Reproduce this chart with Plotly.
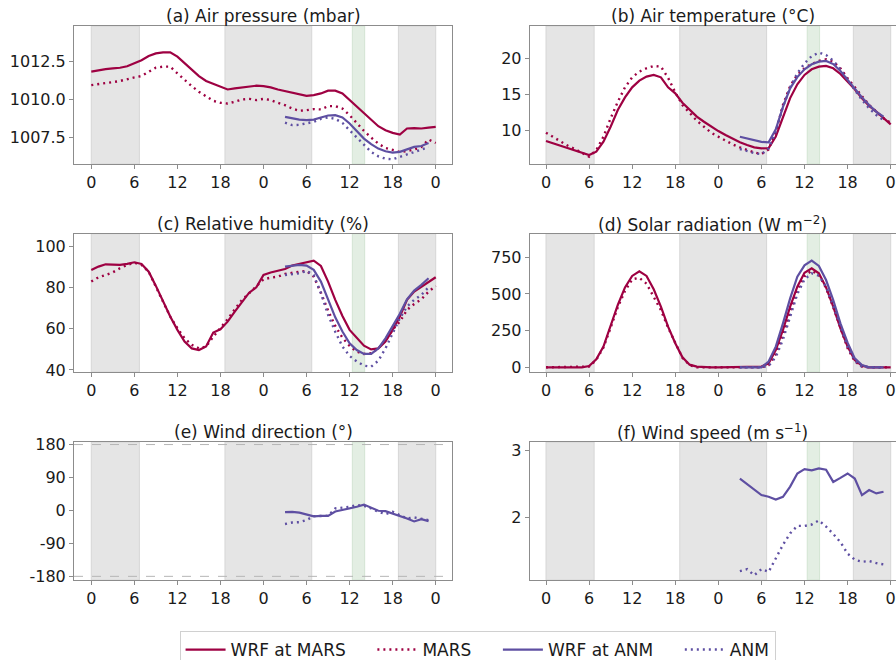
import plotly.graph_objects as go

# ---------------- data ----------------
hours_mars = list(range(0, 49))
hours_anm = list(range(27, 48))
tick_vals = [0, 6, 12, 18, 24, 30, 36, 42, 48]
tick_text = ["0", "6", "12", "18", "0", "6", "12", "18", "0"]

night_start = [0.0, 18.63, 42.8]
night_end = [6.7, 30.72, 48.0]
burst_start = [36.38]
burst_end = [38.1]

p_wrf_mars = [1011.84, 1011.93, 1012.01, 1012.05, 1012.10, 1012.20,
              1012.39, 1012.60, 1012.88, 1013.05, 1013.12, 1013.12,
              1012.83, 1012.39, 1011.95, 1011.55, 1011.22, 1011.02,
              1010.84, 1010.66, 1010.73, 1010.80, 1010.84, 1010.91,
              1010.88, 1010.80, 1010.66, 1010.55, 1010.44, 1010.33,
              1010.24, 1010.29, 1010.40, 1010.58, 1010.58, 1010.40,
              1009.96, 1009.51, 1009.07, 1008.63, 1008.23, 1007.96,
              1007.79, 1007.68, 1008.08, 1008.10, 1008.08, 1008.14,
              1008.19]
p_mars = [1010.95, 1011.00, 1011.06, 1011.15, 1011.22, 1011.35,
          1011.46, 1011.55, 1011.84, 1012.10, 1012.17, 1012.17,
          1011.73, 1011.28, 1010.88, 1010.51, 1010.18, 1009.91,
          1009.78, 1009.73, 1009.85, 1010.00, 1010.04, 1009.96,
          1010.04, 1009.96, 1009.78, 1009.62, 1009.40, 1009.25,
          1009.29, 1009.36, 1009.34, 1009.56, 1009.56, 1009.40,
          1008.96, 1008.41, 1007.92, 1007.48, 1007.08, 1006.79,
          1006.64, 1006.53, 1006.59, 1006.68, 1006.86, 1007.35,
          1007.12]
p_wrf_anm = [1008.85, 1008.74, 1008.67, 1008.63, 1008.67, 1008.81,
             1008.94, 1008.96, 1008.81, 1008.41, 1007.90, 1007.41,
             1007.04, 1006.75, 1006.57, 1006.48, 1006.53, 1006.68,
             1006.86, 1006.92, 1007.12]
p_anm = [1008.47, 1008.30, 1008.32, 1008.41, 1008.52, 1008.72,
         1008.81, 1008.72, 1008.45, 1007.96, 1007.48, 1006.97,
         1006.53, 1006.24, 1006.08, 1006.04, 1006.19, 1006.37,
         1006.53, 1006.68, 1006.86]

t_wrf_mars = [8.57, 8.25, 7.93, 7.63, 7.33, 7.00,
              6.64, 7.10, 8.48, 10.55, 12.86, 14.60,
              15.99, 16.91, 17.47, 17.70, 17.37, 15.99,
              15.16, 13.87, 12.86, 11.94, 11.24, 10.55,
              9.95, 9.40, 8.85, 8.39, 8.02, 7.70,
              7.56, 7.60, 9.20, 12.00, 14.50, 16.40,
              17.70, 18.48, 18.85, 18.94, 18.62, 17.83,
              16.77, 15.71, 14.47, 13.41, 12.63, 11.71,
              10.88]
t_mars = [9.72, 9.10, 8.48, 7.95, 7.47, 6.95,
          6.41, 7.33, 9.17, 11.71, 14.00, 15.99,
          17.37, 18.16, 18.62, 18.94, 18.85, 17.30,
          15.30, 13.55, 12.40, 11.38, 10.55, 9.72,
          9.17, 8.62, 8.11, 7.70, 7.33, 7.00,
          6.77, 7.42, 9.86, 13.55, 16.18, 17.70,
          18.62, 19.22, 19.63, 19.86, 19.54, 18.62,
          17.24, 15.99, 14.70, 13.55, 12.63, 11.71,
          11.11]
t_wrf_anm = [9.17, 8.95, 8.70, 8.45, 8.40, 10.20, 13.30, 15.85, 17.40, 18.48,
             19.17, 19.54, 19.63, 19.20, 18.25, 17.00, 15.85, 14.60, 13.55,
             12.60, 11.94]
t_anm = [7.47, 7.20, 6.90, 6.75, 7.56, 9.86, 13.30, 16.00, 17.93, 19.30,
         20.30, 20.78, 20.46, 19.68, 18.48, 17.00, 15.62, 14.24, 13.09,
         12.17, 11.47]

rh_wrf_mars = [88.6, 90.3, 91.4, 91.1, 91.1, 91.6,
               92.4, 91.6, 87.8, 80.9, 73.2, 66.0,
               59.5, 53.8, 50.5, 49.7, 51.4, 58.2,
               59.8, 63.5, 68.4, 73.2, 77.6, 80.2,
               86.2, 87.4, 88.2, 89.1, 90.8, 91.6,
               92.4, 93.2, 90.6, 83.0, 74.1, 66.3,
               59.5, 55.4, 51.8, 50.0, 50.5, 53.8,
               59.5, 66.0, 74.1, 78.1, 80.5, 83.0,
               85.1]
rh_mars = [83.0, 85.1, 86.2, 87.5, 89.5, 91.1,
           92.2, 91.1, 87.8, 80.9, 73.2, 66.0,
           60.3, 55.4, 52.2, 50.5, 51.4, 56.2,
           60.3, 64.7, 69.5, 74.1, 77.3, 80.5,
           84.1, 84.9, 85.4, 86.7, 87.4, 87.8,
           88.2, 85.4, 77.6, 68.9, 61.4, 55.7,
           51.7, 48.9, 47.8, 48.1, 50.5, 54.6,
           59.5, 63.5, 69.2, 72.1, 74.4, 78.1,
           80.9]
rh_wrf_anm = [90.3, 90.8, 91.1, 90.8, 88.7, 83.0, 74.1, 65.6, 58.7, 53.0,
              49.7, 47.8, 47.8, 50.5, 55.4, 61.1, 67.3, 74.4, 78.6, 81.4, 84.6]
rh_anm = [86.2, 86.7, 87.0, 88.2, 86.2, 77.3, 66.8, 58.6, 51.4, 46.8,
          44.1, 42.1, 41.6, 44.5, 50.5, 57.8, 65.1, 70.8, 74.1, 76.5, 80.2]

sw_wrf_mars = [0, 0, 0, 0, 0, 0,
               9, 55, 141, 282, 425, 545,
               623, 655, 623, 532, 414, 277,
               164, 68, 18, 5, 0, 0,
               0, 0, 0, 0, 0, 0,
               5, 27, 118, 255, 414, 550,
               645, 675, 641, 545, 414, 266,
               141, 50, 11, 0, 0, 0,
               0]
sw_mars = [0, 0, 0, 0, 0, 0,
           5, 50, 135, 270, 410, 520,
           600, 610, 570, 480, 390, 270,
           165, 65, 15, 0, 0, 0,
           0, 0, 0, 0, 0, 0,
           0, 15, 90, 220, 380, 530,
           620, 660, 630, 540, 410, 270,
           130, 40, 5, 0, 0, 0,
           0]
sw_wrf_anm = [0, 0, 0, 0, 39, 141, 300, 470, 618, 695, 727, 691, 595, 459,
              300, 168, 61, 16, 0, 0, 0]
sw_anm = [0, 0, 0, 0, 10, 70, 190, 350, 500, 600, 640, 625, 550, 420,
          280, 140, 45, 5, 0, 0, 0]

wd_wrf_anm = [-4.6, -3.7, -6.0, -11.0, -16.0, -15.0, -15.0, -3.0, 1.0, 5.0,
              10.0, 16.0, 7.3, -0.9, -1.8, -8.2, -15.5, -22.0, -30.0, -24.0, -29.0]
wd_anm = [-37.0, -33.0, -32.0, -26.5, -15.5, -15.5, -14.6, 5.5, 7.3, 10.0,
          14.6, 12.8, 5.5, -3.7, -10.0, -3.7, -12.8, -22.0, -19.0, -22.0, -26.5]

ws_wrf_anm = [2.58, 2.50, 2.42, 2.335, 2.31, 2.27, 2.31, 2.46, 2.655, 2.72,
              2.70, 2.73, 2.71, 2.53, 2.59, 2.655, 2.58, 2.335, 2.41, 2.36, 2.385]
ws_anm = [1.21, 1.24, 1.15, 1.24, 1.20, 1.40, 1.60, 1.77, 1.88, 1.88,
          1.90, 1.96, 1.87, 1.76, 1.64, 1.47, 1.38, 1.35, 1.36, 1.33, 1.31]

titles = ["(a) Air pressure (mbar)", "(b) Air temperature (°C)",
          "(c) Relative humidity (%)", "(d) Solar radiation (W m<sup>−2</sup>)",
          "(e) Wind direction (°)", "(f) Wind speed (m s<sup>−1</sup>)"]
legend_names = ["WRF at MARS", "MARS", "WRF at ANM", "ANM"]

# ---------------- styling ----------------
CRIMSON = "#9e0142"
PURPLE = "#5e4fa2"
FONT = "DejaVu Sans"
TXT = "#1a1a1a"
SPINE = "#8c8c8c"
DOT = "2px,4px"
PAD = "\u00a0" * 4

W, H = 896, 660
left_dom = [74 / W, 452 / W]
right_dom = [529.7 / W, 1.0]
rows = [[1 - 164 / H, 1 - 26 / H], [1 - 372 / H, 1 - 233.7 / H], [1 - 580 / H, 1 - 442 / H]]
left_xr = [-2.41, 50.27]
right_xr = [-2.27, 48.74]

panels = [
    dict(x=left_dom, y=rows[0], xr=left_xr, yr=[1005.73, 1014.86],
         tv=[1007.5, 1010.0, 1012.5], tt=["1007.5", "1010.0", "1012.5"],
         mars=(p_wrf_mars, p_mars), anm=(p_wrf_anm, p_anm)),
    dict(x=right_dom, y=rows[0], xr=right_xr, yr=[5.4, 24.46],
         tv=[10, 15, 20], tt=["10", "15", "20"],
         mars=(t_wrf_mars, t_mars), anm=(t_wrf_anm, t_anm)),
    dict(x=left_dom, y=rows[1], xr=left_xr, yr=[39.0, 106.3],
         tv=[40, 60, 80, 100], tt=["40", "60", "80", "100"],
         mars=(rh_wrf_mars, rh_mars), anm=(rh_wrf_anm, rh_anm)),
    dict(x=right_dom, y=rows[1], xr=right_xr, yr=[-32, 911],
         tv=[0, 250, 500, 750], tt=["0", "250", "500", "750"],
         mars=(sw_wrf_mars, sw_mars), anm=(sw_wrf_anm, sw_anm)),
    dict(x=left_dom, y=rows[2], xr=left_xr, yr=[-190, 187],
         tv=[-180, -90, 0, 90, 180], tt=["-180", "-90", "0", "90", "180"],
         mars=None, anm=(wd_wrf_anm, wd_anm)),
    dict(x=right_dom, y=rows[2], xr=right_xr, yr=[1.08, 3.12],
         tv=[2, 3], tt=["2", "3"],
         mars=None, anm=(ws_wrf_anm, ws_anm)),
]

fig = go.Figure()
shapes = []
annotations = []
layout = {}

for i, p in enumerate(panels):
    n = i + 1
    xa = "x" if n == 1 else f"x{n}"
    ya = "y" if n == 1 else f"y{n}"
    is_left = (i % 2 == 0)
    first = (n == 1)

    if p["mars"] is not None:
        fig.add_trace(go.Scatter(x=hours_mars, y=p["mars"][0], mode="lines",
                                 line=dict(color=CRIMSON, width=2.2),
                                 name=legend_names[0] + PAD, showlegend=first,
                                 xaxis=xa, yaxis=ya, hoverinfo="skip"))
        fig.add_trace(go.Scatter(x=hours_mars, y=p["mars"][1], mode="lines",
                                 line=dict(color=CRIMSON, width=2.4, dash=DOT),
                                 name=legend_names[1] + PAD, showlegend=first,
                                 xaxis=xa, yaxis=ya, hoverinfo="skip"))
    fig.add_trace(go.Scatter(x=hours_anm, y=p["anm"][0], mode="lines",
                             line=dict(color=PURPLE, width=2.2),
                             name=legend_names[2] + PAD, showlegend=first,
                             xaxis=xa, yaxis=ya, hoverinfo="skip"))
    fig.add_trace(go.Scatter(x=hours_anm, y=p["anm"][1], mode="lines",
                             line=dict(color=PURPLE, width=2.4, dash=DOT),
                             name=legend_names[3], showlegend=first,
                             xaxis=xa, yaxis=ya, hoverinfo="skip"))

    for s, e in zip(night_start, night_end):
        shapes.append(dict(type="rect", xref=xa, yref=f"{ya} domain",
                           x0=s, x1=e, y0=0, y1=1, layer="below",
                           fillcolor="#e5e5e5", line=dict(color="#d6d6d6", width=1)))
    for s, e in zip(burst_start, burst_end):
        shapes.append(dict(type="rect", xref=xa, yref=f"{ya} domain",
                           x0=s, x1=e, y0=0, y1=1, layer="below",
                           fillcolor="#e3eee3", line=dict(color="#d3e4d3", width=1)))
    if n == 5:
        for yv in (180, -180):
            shapes.append(dict(type="line", xref=f"{xa} domain", yref=ya,
                               x0=0, x1=1, y0=yv, y1=yv, layer="above",
                               line=dict(color="#b5b5b5", width=1, dash="dash")))

    layout[f"xaxis{'' if n == 1 else n}"] = dict(
        domain=p["x"], range=p["xr"], anchor=ya, automargin=False,
        tickmode="array", tickvals=tick_vals, ticktext=tick_text,
        showline=True, linecolor=SPINE, linewidth=1, mirror=True,
        ticks="outside", ticklen=4, tickcolor=SPINE,
        showgrid=False, zeroline=False,
        tickfont=dict(size=16, color=TXT, family=FONT))
    layout[f"yaxis{'' if n == 1 else n}"] = dict(
        domain=p["y"], range=p["yr"], anchor=xa, automargin=False,
        tickmode="array", tickvals=p["tv"], ticktext=p["tt"],
        showline=True, linecolor=SPINE, linewidth=1, mirror=is_left,
        ticks="outside", ticklen=4, tickcolor=SPINE,
        showgrid=False, zeroline=False,
        tickfont=dict(size=16, color=TXT, family=FONT))

    annotations.append(dict(text=titles[i], xref="paper", yref="paper",
                            x=(p["x"][0] + p["x"][1]) / 2, y=p["y"][1],
                            xanchor="center", yanchor="middle", yshift=10,
                            showarrow=False,
                            font=dict(size=17, color=TXT, family=FONT)))

fig.update_layout(
    width=W, height=H,
    margin=dict(l=0, r=0, t=0, b=0, autoexpand=False),
    paper_bgcolor="white", plot_bgcolor="white",
    font=dict(family=FONT, size=16, color=TXT),
    shapes=shapes, annotations=annotations,
    showlegend=True,
    legend=dict(orientation="h", x=0.533, xanchor="center",
                y=1 - 631 / H, yanchor="top",
                bordercolor="#d0d0d0", borderwidth=1, bgcolor="white",
                font=dict(size=17, color=TXT, family=FONT),
                itemwidth=40, tracegroupgap=0),
    **layout,
)

fig.write_html("out.html", config={"displayModeBar": False},
               post_script="document.body.style.margin='0';document.body.style.overflow='hidden';")
